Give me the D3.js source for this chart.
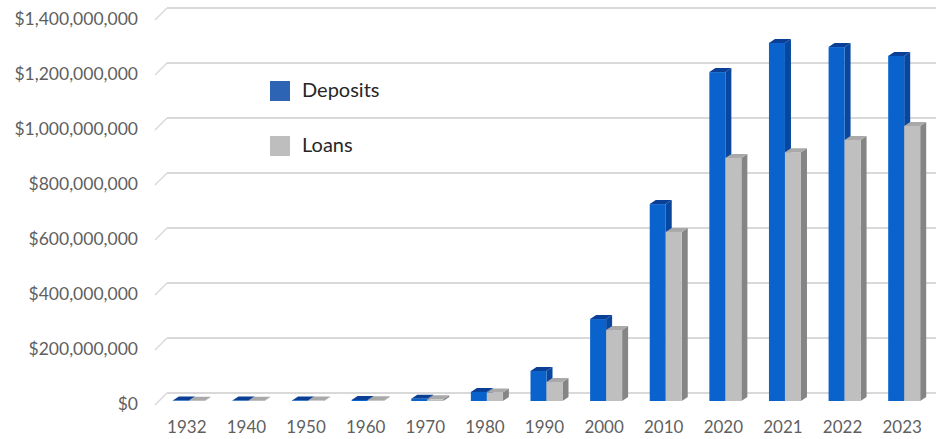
<!DOCTYPE html>
<html>
<head>
<meta charset="utf-8">
<script src="https://cdn.jsdelivr.net/npm/d3@7"></script>
<style>
  html, body { margin: 0; padding: 0; background: #fff; }
  svg { display: block; }
  .axis text { font-family: Lato, "Open Sans", sans-serif; fill: #5f5f5f; }
  .legend text { font-family: Lato, "Open Sans", sans-serif; fill: #262626; }
</style>
</head>
<body>
<svg id="chart" width="936" height="439"></svg>
<script>
const categories = ["1932","1940","1950","1960","1970","1980","1990","2000","2010","2020","2021","2022","2023"];
const deposits = [1500000, 1500000, 2000000, 4000000, 8000000, 33000000, 109000000, 298000000, 716000000, 1196000000, 1302000000, 1287000000, 1255000000];
const loans    = [800000, 1000000, 1500000, 3000000, 6000000, 31000000, 69000000, 258000000, 615000000, 884000000, 905000000, 949000000, 1000000000];
const seriesNames = ["Deposits", "Loans"];
const yTicks = [0, 200000000, 400000000, 600000000, 800000000, 1000000000, 1200000000, 1400000000];

const W = 936, H = 439;
const svg = d3.select("#chart");

const depthX = 12, depthY = 12;      // wall depth
const barDX = 6, barDY = 4;          // bar depth
const barShift = 4;                   // bars sit 4px behind front plane

const x = d3.scaleBand().domain(categories).range([160, 935]).paddingInner(0).paddingOuter(0);
const y = d3.scaleLinear().domain([0, 1400000000]).range([405, 20]);

// Gridlines (back wall + diagonal floor connector)
const grid = svg.append("g");
yTicks.forEach(t => {
  const yf = y(t), yb = yf - depthY;
  grid.append("line").attr("x1", 155).attr("y1", yf).attr("x2", 155 + depthX).attr("y2", yb)
    .attr("stroke", "#d9d9d9").attr("stroke-width", 1.5);
  grid.append("line").attr("x1", 155 + depthX).attr("y1", yb).attr("x2", W).attr("y2", yb)
    .attr("stroke", "#d9d9d9").attr("stroke-width", 1.8);
});

// Y axis labels
const yAxis = d3.axisLeft(y).tickValues(yTicks).tickSize(0).tickPadding(0)
  .tickFormat(d => "$" + d3.format(",")(d));
svg.append("g").attr("class", "axis").attr("transform", "translate(138,-1)").call(yAxis)
  .call(g => g.select(".domain").remove())
  .selectAll("text").style("font-size", "17.5px");

// X axis labels
const xAxis = d3.axisBottom(x).tickSize(0).tickPadding(0);
svg.append("g").attr("class", "axis").attr("transform", "translate(-3,421)").call(xAxis)
  .call(g => g.select(".domain").remove())
  .selectAll("text").style("font-size", "17px");

// Bars
const barW = 16;
const styles = [
  { front: "#0a62cc", top: "#0b3f96", side: "#08479f" },
  { front: "#bfbfbf", top: "#a9a9a9", side: "#858585" }
];
const data = [deposits, loans];
const bars = svg.append("g");
categories.forEach((c, i) => {
  const cx = x(c) + x.bandwidth() / 2;
  const left0 = cx - barW - 1;
  [0, 1].forEach(s => {
    const v = data[s][i];
    const x0 = left0 + s * barW, x1 = x0 + barW;
    const yb = y(0) - barShift, yt = y(v) - barShift;
    const st = styles[s];
    const g = bars.append("g");
    g.append("path").attr("d", `M${x1},${yt}L${x1 + barDX},${yt - barDY}L${x1 + barDX},${yb - barDY}L${x1},${yb}Z`)
      .attr("fill", st.side);
    g.append("path").attr("d", `M${x0},${yt}L${x0 + barDX},${yt - barDY}L${x1 + barDX},${yt - barDY}L${x1},${yt}Z`)
      .attr("fill", st.top);
    g.append("rect").attr("x", x0).attr("y", yt).attr("width", barW).attr("height", Math.max(0, yb - yt))
      .attr("fill", st.front);
  });
});

// Legend
const legColors = ["#2e64b4", "#bebebe"];
const leg = svg.append("g").attr("class", "legend");
seriesNames.forEach((n, i) => {
  const yy = 81 + i * 55;
  leg.append("rect").attr("x", 270).attr("y", yy).attr("width", 20).attr("height", 20).attr("fill", legColors[i]);
  leg.append("text").attr("x", 302).attr("y", yy + 16).style("font-size", "20px").text(n);
});
</script>
</body>
</html>
